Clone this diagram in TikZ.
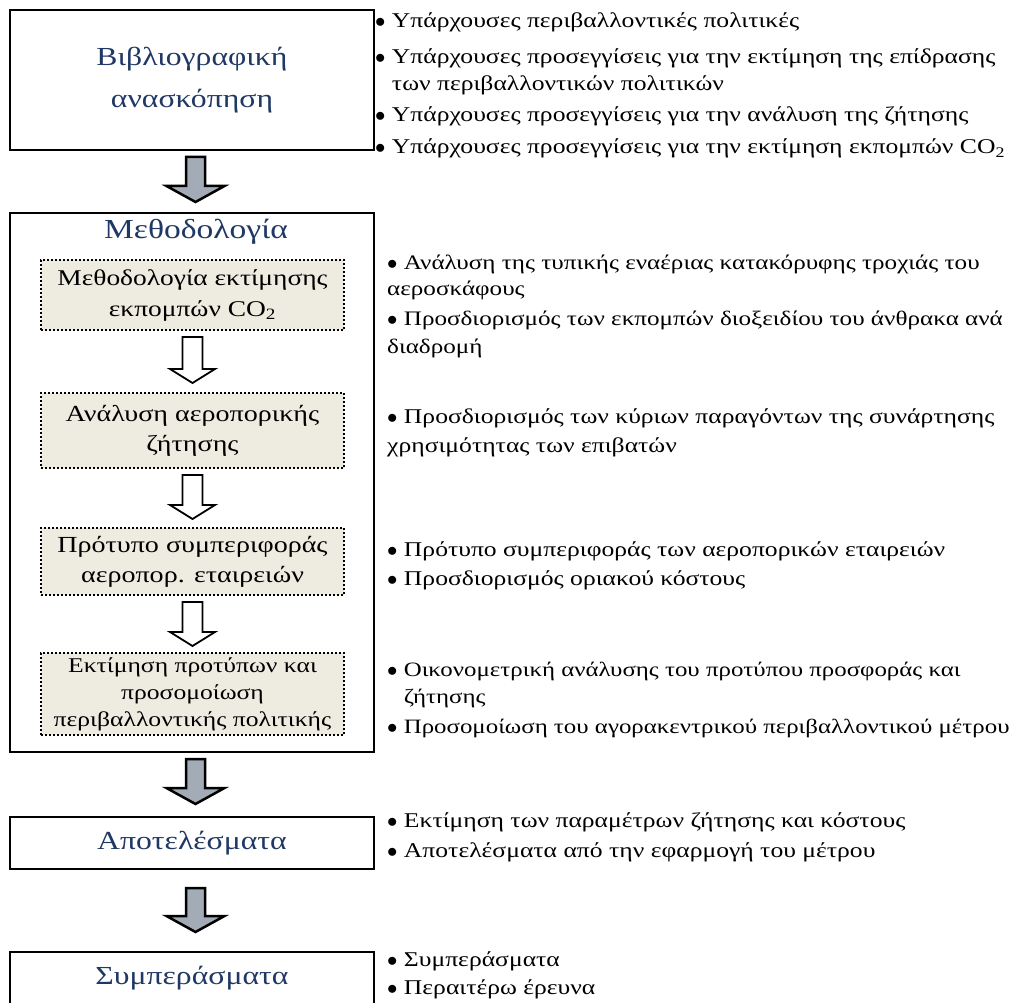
\documentclass[tikz,border=0pt]{standalone}
\usepackage{fontspec}
\setmainfont{Liberation Serif}[FakeStretch=1.22]
\usetikzlibrary{calc}
\definecolor{navy}{RGB}{31,56,100}
\definecolor{tanbg}{RGB}{238,236,225}
\definecolor{arrowgray}{RGB}{163,171,183}
\tikzset{
  mainbox/.style={draw=black, line width=2pt, minimum width=364pt, inner sep=0pt,
    text=navy, font=\fontsize{26}{42}\selectfont, align=center},
  subbox/.style={draw=black, fill=tanbg, dash pattern=on 2pt off 2pt, line width=2pt,
    minimum width=303pt, inner sep=0pt, align=center},
  bullets/.style={anchor=base west, align=left, inner sep=0pt,
    font=\fontsize{21}{27}\selectfont},
  grayarrow/.style={draw=black, line width=2.5pt, fill=arrowgray, line join=miter},
  hollowarrow/.style={draw=black, line width=1.8pt, fill=white, line join=miter},
}
\newcommand\blockarrow[6]{%
  \draw[#1] let \p1=(#2), \p2=(#3) in
    (\x1-#4pt,\y1) -- (\x1+#4pt,\y1) -- (\x1+#4pt,\y2+#6pt) -- (\x1+#5pt,\y2+#6pt)
    -- (\x1,\y2) -- (\x1-#5pt,\y2+#6pt) -- (\x1-#4pt,\y2+#6pt) -- cycle;}
\newcommand\bl{$\bullet$\ }
\newcommand\ind{\hphantom{$\bullet$\ }}
\begin{document}
\begin{tikzpicture}[x=1pt,y=-1pt]
\clip (0,0) rectangle (1017,1003);
\fill[white] (0,0) rectangle (1017,1003);

% left column boxes
\node[mainbox, minimum height=140pt] (lit) at (192,80) {Βιβλιογραφική\\ανασκόπηση};
\node[mainbox, minimum height=539pt] (meth) at (192,482.5) {};
\node[text=navy, font=\fontsize{27.5}{30}\selectfont, inner sep=0pt] (methtitle) at (196,232) {Μεθοδολογία};

\node[subbox, minimum height=70pt, font=\fontsize{22.5}{31}\selectfont] (subA) at (192.5,295)
  {Μεθοδολογία εκτίμησης\\εκπομπών CO\textsubscript{2}};
\node[subbox, minimum height=75pt, font=\fontsize{23}{30}\selectfont] (subB) at (192.5,430.5)
  {Ανάλυση αεροπορικής\\ζήτησης};
\node[subbox, minimum height=67pt, font=\fontsize{23}{30}\selectfont] (subC) at (192.5,561.5)
  {Πρότυπο συμπεριφοράς\\αεροπορ. εταιρειών};
\node[subbox, minimum height=82pt, font=\fontsize{21}{27}\selectfont] (subD) at (192.5,694)
  {Εκτίμηση προτύπων και\\προσομοίωση\\περιβαλλοντικής πολιτικής};

\node[mainbox, minimum height=52pt] (res) at (192,843) {Αποτελέσματα};
\node[mainbox, minimum height=52pt] (conc) at (192,978) {Συμπεράσματα};

% gray block arrows
\coordinate (g1s) at ($(lit.south)+(3.5,6)$);
\coordinate (g1e) at ($(meth.north)+(3.5,-10)$);
\blockarrow{grayarrow}{g1s}{g1e}{9.5}{29}{16}
\coordinate (g2s) at ($(meth.south)+(3.5,6)$);
\coordinate (g2e) at ($(res.north)+(3.5,-12)$);
\blockarrow{grayarrow}{g2s}{g2e}{9.5}{29}{16}
\coordinate (g3s) at ($(res.south)+(3.5,18)$);
\coordinate (g3e) at ($(conc.north)+(3.5,-19)$);
\blockarrow{grayarrow}{g3s}{g3e}{9.5}{29}{16}

% hollow arrows
\coordinate (h1s) at ($(subA.south)+(0,6)$);
\coordinate (h1e) at ($(subB.north)+(0,-9)$);
\blockarrow{hollowarrow}{h1s}{h1e}{10}{22.5}{14}
\coordinate (h2s) at ($(subB.south)+(0,6)$);
\coordinate (h2e) at ($(subC.north)+(0,-8)$);
\blockarrow{hollowarrow}{h2s}{h2e}{10}{22.5}{14}
\coordinate (h3s) at ($(subC.south)+(0,6)$);
\coordinate (h3e) at ($(subD.north)+(0,-6)$);
\blockarrow{hollowarrow}{h3s}{h3e}{10}{22.5}{14}

% right column texts (placed by the baseline of their last line)
\node[bullets] (t1) at (375,154) {\bl Υπάρχουσες περιβαλλοντικές πολιτικές\\[9pt]
  \bl Υπάρχουσες προσεγγίσεις για την εκτίμηση της επίδρασης\\
  \ind των περιβαλλοντικών πολιτικών\\[4pt]
  \bl Υπάρχουσες προσεγγίσεις για την ανάλυση της ζήτησης\\[5pt]
  \bl Υπάρχουσες προσεγγίσεις για την εκτίμηση εκπομπών CO\textsubscript{2}};

\node[bullets, font=\fontsize{20.6}{27}\selectfont] (t2) at (387,353)
  {\bl Ανάλυση της τυπικής εναέριας κατακόρυφης τροχιάς του\\[-1pt]
  αεροσκάφους\\[3pt]
  \bl Προσδιορισμός των εκπομπών διοξειδίου του άνθρακα ανά\\[1pt]
  διαδρομή};

\node[bullets] (t3) at (387,452) {\bl Προσδιορισμός των κύριων παραγόντων της συνάρτησης\\[2pt]
  χρησιμότητας των επιβατών};

\node[bullets] (t4) at (387,585) {\bl Πρότυπο συμπεριφοράς των αεροπορικών εταιρειών\\[2pt]
  \bl Προσδιορισμός οριακού κόστους};

\node[bullets, font=\fontsize{20.4}{27}\selectfont] (t5) at (387,733)
  {\bl Οικονομετρική ανάλυσης του προτύπου προσφοράς και\\
  \ind ζήτησης\\[3pt]
  \bl Προσομοίωση του αγορακεντρικού περιβαλλοντικού μέτρου};

\node[bullets] (t6) at (387,857) {\bl Εκτίμηση των παραμέτρων ζήτησης και κόστους\\[3pt]
  \bl Αποτελέσματα από την εφαρμογή του μέτρου};

\node[bullets] (t7) at (387,994) {\bl Συμπεράσματα\\[1pt]
  \bl Περαιτέρω έρευνα};
\end{tikzpicture}
\end{document}
